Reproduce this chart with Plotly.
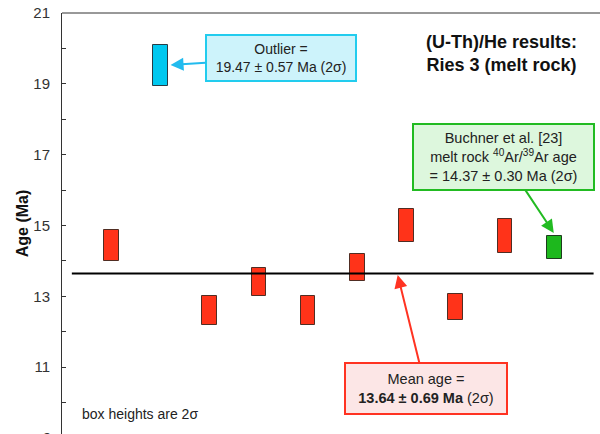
import plotly.graph_objects as go

# ---- data ----
grain_pos = [1, 3, 4, 5, 6, 7, 8, 9]
grain_low = [14.00, 12.19, 13.01, 12.19, 13.43, 14.52, 12.33, 14.23]
grain_high = [14.87, 13.00, 13.79, 13.00, 14.18, 15.47, 13.06, 15.19]

outlier_pos = [2]
outlier_low = [18.94]
outlier_high = [20.09]

ar_pos = [10]
ar_low = [14.06]
ar_high = [14.70]

mean_age = 13.64
mean_x = [0.2, 10.8]

ytick_vals = [11, 13, 15, 17, 19, 21]
cut_tick = 9

Y_RANGE = [9.11, 21]
FONT = "Liberation Sans, Arial, sans-serif"
EDGE = "rgb(80,45,35)"

fig = go.Figure()

def add_boxes(pos, low, high, color, edge):
    fig.add_trace(go.Bar(
        x=pos, y=[h - l for l, h in zip(low, high)], base=low,
        width=0.3, marker=dict(color=color, line=dict(color=edge, width=1)),
        showlegend=False, hoverinfo="skip"))

add_boxes(grain_pos, grain_low, grain_high, "#FF3319", EDGE)
add_boxes(outlier_pos, outlier_low, outlier_high, "#00C8F0", "rgb(40,60,70)")
add_boxes(ar_pos, ar_low, ar_high, "#1DB81D", "rgb(30,60,30)")

fig.add_trace(go.Scatter(x=mean_x, y=[mean_age, mean_age], mode="lines",
                         line=dict(color="black", width=2),
                         showlegend=False, hoverinfo="skip"))

anns = []
# boxed labels with arrows (box centred at ax/ay, arrow to x/y)
anns.append(dict(x=2.205, y=19.53, ax=4.44, ay=19.73, xref="x", yref="y",
                 axref="x", ayref="y", showarrow=True,
                 arrowcolor="#22BBEE", arrowwidth=2, arrowhead=2, arrowsize=1.3,
                 text="Outlier =<br>19.47 ± 0.57 Ma (2σ)",
                 font=dict(family=FONT, size=14, color="#222"),
                 bgcolor="#CDF3FB", bordercolor="#22CCEE", borderwidth=2,
                 borderpad=3, width=142, height=38))
anns.append(dict(x=9.99, y=14.79, ax=8.97, ay=16.93, xref="x", yref="y",
                 axref="x", ayref="y", showarrow=True,
                 arrowcolor="#22BB22", arrowwidth=2, arrowhead=2, arrowsize=1.3,
                 text="Buchner et al. [23]<br>melt rock <sup>40</sup>Ar/<sup>39</sup>Ar age<br>= 14.37 ± 0.30 Ma (2σ)",
                 font=dict(family=FONT, size=14.5, color="#222"),
                 bgcolor="#DDF7DD", bordercolor="#22BB22", borderwidth=2,
                 borderpad=3, width=173, height=58))
anns.append(dict(x=6.82, y=13.60, ax=7.39, ay=10.39, xref="x", yref="y",
                 axref="x", ayref="y", showarrow=True,
                 arrowcolor="#FF3322", arrowwidth=2, arrowhead=2, arrowsize=1.3,
                 text="Mean age =<br><b>13.64 ± 0.69 Ma</b> (2σ)",
                 font=dict(family=FONT, size=14.5, color="#222"),
                 bgcolor="#FCE6E6", bordercolor="#FF3322", borderwidth=2,
                 borderpad=3, width=154, height=43))
# title and note
anns.append(dict(x=8.93, y=19.87, xref="x", yref="y", showarrow=False,
                 text="<b>(U-Th)/He results:<br>Ries 3 (melt rock)</b>",
                 font=dict(family=FONT, size=18, color="#111")))
anns.append(dict(x=0.36, y=9.67, xref="x", yref="y", showarrow=False,
                 xanchor="left", text="box heights are 2σ",
                 font=dict(family=FONT, size=14, color="#222")))
# the bottom tick label, cut off by the picture edge
anns.append(dict(x=0, xref="paper", yref="paper",
                 y=(cut_tick - Y_RANGE[0]) / (Y_RANGE[1] - Y_RANGE[0]),
                 showarrow=False, xanchor="right", yanchor="middle", xshift=-9,
                 text=str(cut_tick),
                 font=dict(family=FONT, size=15, color="#333")))
fig.update_layout(annotations=anns)

fig.add_shape(type="line", xref="paper", yref="paper", x0=0, x1=1, y0=1, y1=1,
              line=dict(color="#333", width=1))

fig.update_layout(
    width=600, height=434,
    margin=dict(l=62, r=0, t=13, b=0, autoexpand=False),
    plot_bgcolor="white", paper_bgcolor="white",
    bargap=0, barmode="overlay",
    font=dict(family=FONT, size=15, color="#222"),
    xaxis=dict(range=[0, 10.93], visible=False, fixedrange=True),
    yaxis=dict(range=Y_RANGE, tickvals=ytick_vals, ticks="inside",
               automargin=False, ticklabeloverflow="allow",
               ticklen=4, tickcolor="#333", showline=True, linecolor="#333",
               linewidth=1, showgrid=False, zeroline=False,
               tickfont=dict(family=FONT, size=15, color="#333"),
               ticklabelstandoff=8,
               minor=dict(dtick=1, ticks="inside", ticklen=4, tickcolor="#333"),
               title=dict(text="<b>Age (Ma)</b>", standoff=0,
                          font=dict(family=FONT, size=16, color="#111"))),
)

fig.write_html("out.html", config={"displayModeBar": False},
               post_script="document.body.style.margin='0';")
